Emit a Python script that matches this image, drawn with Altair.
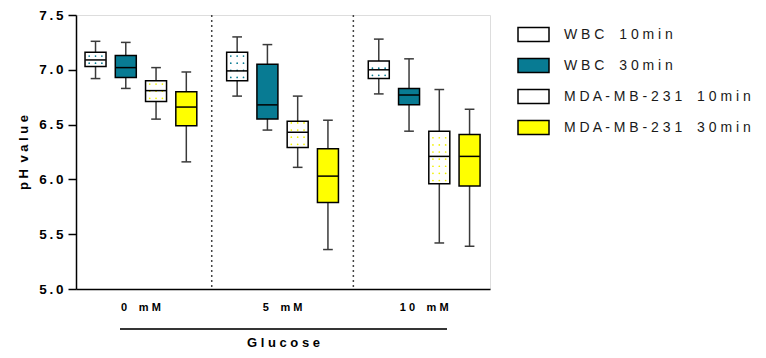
import altair as alt
import pandas as pd
import numpy as np

groups = ["0 mM", "5 mM", "10 mM"]
series = ["WBC 10min", "WBC 30min", "MDA-MB-231 10min", "MDA-MB-231 30min"]
colors = ["#ffffff", "#087b93", "#ffffff", "#ffff00"]
dot_colors = ["#087b93", None, "#f2f200", None]

# per group, per series (row-major: group then series)
w_low = [6.92, 6.83, 6.55, 6.16,
         6.76, 6.45, 6.11, 5.36,
         6.78, 6.44, 5.42, 5.39]
q1 = [7.03, 6.93, 6.71, 6.49,
      6.90, 6.55, 6.29, 5.79,
      6.92, 6.68, 5.96, 5.94]
median = [7.09, 7.02, 6.81, 6.66,
          6.99, 6.68, 6.43, 6.03,
          7.00, 6.77, 6.21, 6.21]
q3 = [7.16, 7.13, 6.90, 6.80,
      7.16, 7.05, 6.53, 6.28,
      7.08, 6.83, 6.44, 6.41]
w_high = [7.26, 7.25, 7.02, 6.98,
          7.30, 7.23, 6.76, 6.54,
          7.28, 7.10, 6.82, 6.64]

GROUP_STEP = 4.68
FIRST = 0.48
XMAX = 13.35

rows = []
for gi, g in enumerate(groups):
    for si, s in enumerate(series):
        k = gi * len(series) + si
        rows.append(dict(group=g, series=s, pos=FIRST + gi * GROUP_STEP + si,
                         lo=w_low[k], q1=q1[k], med=median[k], q3=q3[k], hi=w_high[k]))
df = pd.DataFrame(rows)

# decorative dot pattern inside the dotted boxes
dots = []
for r in rows:
    si = series.index(r["series"])
    c = dot_colors[si]
    if c is None:
        continue
    for yv in np.arange(r["q1"] + 0.03, r["q3"] - 0.01, 0.065):
        for dx in (-0.21, 0.0, 0.21):
            dots.append(dict(x=r["pos"] + dx, y=yv, c=c))
dots_df = pd.DataFrame(dots)

dividers = pd.DataFrame({"x": [FIRST + 3 + (GROUP_STEP - 3) / 2,
                               FIRST + GROUP_STEP + 3 + (GROUP_STEP - 3) / 2]})
glab = pd.DataFrame({"group": groups,
                     "x": [FIRST + gi * GROUP_STEP + 1.5 for gi in range(len(groups))]})

FONT = "Liberation Sans"
SPACE_EXPR = "join(split(replace({f}, ' ', '\u2002'), ''), ' ')"


def spaced(s):
    return "\u2002".join(" ".join(w) for w in s.split(" "))


xscale = alt.Scale(domain=[0, XMAX], nice=False, zero=False)
yscale = alt.Scale(domain=[5, 7.5], nice=False, zero=False)

base = alt.Chart(df)

xaxis = alt.Axis(title=spaced("Glucose"), labels=False, ticks=False, grid=False,
                 domainColor="#000000", domainWidth=1.5, titleFont=FONT,
                 titleFontSize=13, titleFontWeight="bold", titleColor="#000000",
                 titlePadding=47)
yaxis = alt.Axis(title=spaced("pH value"), values=[5, 5.5, 6, 6.5, 7, 7.5],
                 labelExpr="join(split(format(datum.value, '.1f'), ''), '\u2009')",
                 grid=False, domainColor="#000000", domainWidth=1.5,
                 tickColor="#000000", tickWidth=1.5, tickSize=8,
                 labelFont=FONT, labelFontSize=13.5, labelFontWeight="bold",
                 labelColor="#000000", labelPadding=5,
                 titleFont=FONT, titleFontSize=13, titleFontWeight="bold",
                 titleColor="#000000", titlePadding=8)

whisk = base.mark_rule(color="#3a3a3a", strokeWidth=1.5).encode(
    x=alt.X("pos:Q", scale=xscale, axis=xaxis),
    y=alt.Y("lo:Q", scale=yscale, axis=yaxis),
    y2="hi:Q")

caps_lo = base.mark_rule(color="#3a3a3a", strokeWidth=1.5).transform_calculate(
    a="datum.pos - 0.16", b="datum.pos + 0.16").encode(
    x="a:Q", x2="b:Q", y="lo:Q")
caps_hi = base.mark_rule(color="#3a3a3a", strokeWidth=1.5).transform_calculate(
    a="datum.pos - 0.16", b="datum.pos + 0.16").encode(
    x="a:Q", x2="b:Q", y="hi:Q")

boxes = base.mark_bar(size=21, stroke="#000000", strokeWidth=1.5).encode(
    x="pos:Q", y="q1:Q", y2="q3:Q",
    fill=alt.Fill("series:N", sort=series,
                  scale=alt.Scale(domain=series, range=colors),
                  legend=alt.Legend(
                      title=None, orient="none", legendX=441, legendY=3,
                      symbolType="M-1,-0.45h2v0.9h-2z", symbolSize=961,
                      symbolStrokeColor="#000000", symbolStrokeWidth=1.5,
                      symbolOpacity=1,
                      labelExpr=SPACE_EXPR.format(f="datum.label"),
                      labelFont=FONT, labelFontSize=14, labelColor="#1a1a1a",
                      labelOffset=14, rowPadding=4, padding=0, labelLimit=400)))

dotl = alt.Chart(dots_df).mark_circle(size=3, opacity=1).encode(
    x="x:Q", y="y:Q", color=alt.Color("c:N", scale=None))

meds = base.mark_rule(color="#000000", strokeWidth=1.5).transform_calculate(
    a="datum.pos - 0.34", b="datum.pos + 0.34").encode(
    x="a:Q", x2="b:Q", y="med:Q")

divs = alt.Chart(dividers).mark_rule(color="#444444", strokeWidth=1.5,
                                     strokeDash=[2, 3]).encode(x="x:Q")

glabels = alt.Chart(glab).mark_text(font=FONT, fontSize=11, fontWeight="bold",
                                    color="#000000").transform_calculate(
    t=SPACE_EXPR.format(f="datum.group")).encode(
    x="x:Q", y=alt.value(293), text="t:N")

bracket = alt.Chart(glab).mark_rule(color="#333333", strokeWidth=1.5).encode(
    x=alt.value(44), x2=alt.value(371), y=alt.value(314))

chart = alt.layer(divs, whisk, caps_lo, caps_hi, boxes, dotl, meds, glabels, bracket).properties(
    width=414, height=274,
    autosize=alt.AutoSizeParams(type="none"),
    padding={"left": 68, "top": 7, "right": 268, "bottom": 61},
).configure_view(stroke=None).configure(background="#ffffff")

chart.save("out.html", embed_options={"renderer": "svg", "actions": False})
